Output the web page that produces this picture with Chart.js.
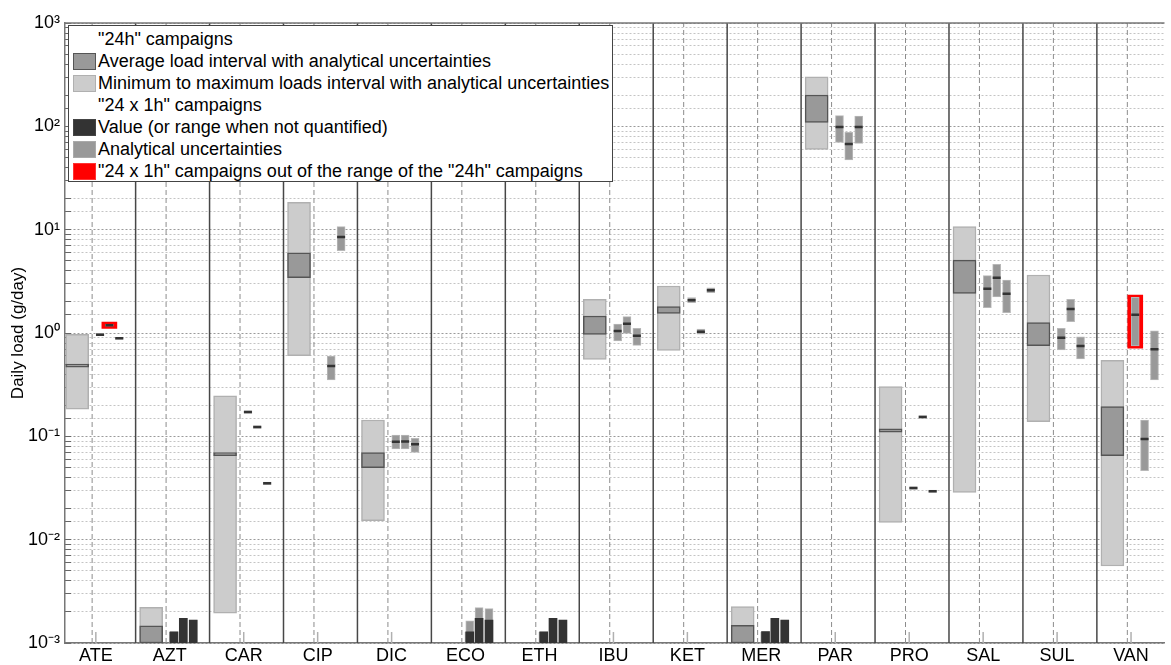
<!DOCTYPE html>
<html>
<head>
<meta charset="utf-8">
<script src="https://cdn.jsdelivr.net/npm/chart.js@4.4.1/dist/chart.umd.min.js"></script>
<style>
body { margin:0; background:#fff; overflow:hidden; }
#wrap { position:relative; width:1171px; height:665px; }
#legend { position:absolute; left:68px; top:25px; width:545px; height:157px; box-sizing:border-box;
  border:1px solid #444; background:#fff; padding-top:3px;
  font:18px "Liberation Sans", Arial, sans-serif; color:#000; }
#legend .row { height:21.9px; display:flex; align-items:center; white-space:nowrap; }
#legend .sw { width:23px; height:17px; box-sizing:border-box; margin:0 2px 0 4px; border:1.5px solid; flex:none; }
#legend .none { border:none; }
</style>
</head>
<body>
<div id="wrap">
  <canvas id="loads"></canvas>
  <div id="legend">
    <div class="row"><span class="sw none"></span>"24h" campaigns</div>
    <div class="row"><span class="sw" style="background:#999;border-color:#555"></span>Average load interval with analytical uncertainties</div>
    <div class="row"><span class="sw" style="background:#ccc;border-color:#b0b0b0"></span>Minimum to maximum loads interval with analytical uncertainties</div>
    <div class="row"><span class="sw none"></span>"24 x 1h" campaigns</div>
    <div class="row"><span class="sw" style="background:#333;border-color:#444"></span>Value (or range when not quantified)</div>
    <div class="row"><span class="sw" style="background:#999;border-color:#aaa"></span>Analytical uncertainties</div>
    <div class="row"><span class="sw" style="background:#f00;border-color:#f33"></span>"24 x 1h" campaigns out of the range of the "24h" campaigns</div>
  </div>
</div>
<script>
const categories = ['ATE','AZT','CAR','CIP','DIC','ECO','ETH','IBU','KET','MER','PAR','PRO','SAL','SUL','VAN'];

// "24h" campaigns, minimum to maximum loads (g/day)
const dailyMin = [0.183, 0.001, 0.00194, 0.604, 0.0153, null, null, 0.556, 0.68, 0.001, 59.9, 0.0147, 0.0287, 0.139, 0.00556];
const dailyMax = [0.97, 0.00222, 0.247, 18.4, 0.144, null, null, 2.12, 2.85, 0.00225, 302, 0.303, 10.7, 3.64, 0.545];
// "24h" campaigns, average load interval
const avgLow  = [0.467, 0.001, 0.065, 3.43, 0.0497, null, null, 0.97, 1.55, 0.001, 109, 0.110, 2.42, 0.753, 0.065];
const avgHigh = [0.50, 0.00147, 0.0697, 5.98, 0.0695, null, null, 1.46, 1.80, 0.00148, 201, 0.118, 5.08, 1.26, 0.194];

// "24 x 1h" campaigns, three per compound
const hourlyValue = [
  [0.964, 1.19, 0.888], [0.00128, 0.00173, 0.00167], [0.172, 0.123, 0.0351],
  [null, 0.48, 8.49], [0.0887, 0.089, 0.0838], [0.00128, 0.00173, 0.00167],
  [0.00128, 0.00173, 0.00167], [1.045, 1.23, 0.94], [2.08, 1.03, 2.59],
  [0.00129, 0.00173, 0.00167], [98.6, 67.5, 98.6], [0.0316, 0.154, 0.0294],
  [2.68, 3.43, 2.40], [0.90, 1.71, 0.748], [1.50, 0.0942, 0.695]
];
const hourlyLow = [
  [0.94, 1.165, 0.867], [0.001, 0.001, 0.001], [0.167, 0.1195, 0.0341],
  [null, 0.351, 6.26], [0.0754, 0.0754, 0.070], [0.001, 0.001, 0.001],
  [0.001, 0.001, 0.001], [0.837, 0.99, 0.76], [1.97, 0.975, 2.45],
  [0.001, 0.001, 0.001], [70, 47.2, 68.5], [0.0307, 0.1495, 0.0286],
  [1.76, 2.24, 1.57], [0.684, 1.29, 0.56], [0.75, 0.0465, 0.351]
];
const hourlyHigh = [
  [0.99, 1.215, 0.91], [0.00128, 0.00173, 0.00167], [0.177, 0.1265, 0.0361],
  [null, 0.599, 10.7], [0.103, 0.103, 0.0957], [0.00164, 0.0022, 0.00215],
  [0.00128, 0.00173, 0.00167], [1.22, 1.44, 1.11], [2.2, 1.09, 2.74],
  [0.00129, 0.00173, 0.00167], [127, 87.5, 126], [0.0325, 0.1585, 0.0302],
  [3.59, 4.62, 3.26], [1.11, 2.12, 0.92], [2.22, 0.144, 1.05]
];
const notQuantified = ['AZT','ECO','ETH','MER'];
const outOfRange = [['ATE', 1], ['VAN', 0]];

const yMin = 1e-3, yMax = 1e3;

// horizontal layout inside one compound slot (x units)
const BOX = -0.252, DASH = -0.05, SEP = 0.538;
const SLOT = [0.057, 0.183, 0.317];

function sup(n) {
  const m = {'-':'\u207B','0':'\u2070','1':'\u00B9','2':'\u00B2','3':'\u00B3','4':'\u2074','5':'\u2075','6':'\u2076','7':'\u2077','8':'\u2078','9':'\u2079'};
  return String(n).split('').map(c => m[c]).join('');
}

function vlines(off, yTop) {
  const pts = [];
  categories.forEach((c, i) => {
    pts.push({x: i + 1 + off, y: yMin}, {x: i + 1 + off, y: yTop}, {x: i + 1 + off, y: null});
  });
  return pts;
}

const boxData = [], avgData = [], uncData = [], darkData = [], valData = [], redData = [];
categories.forEach((c, i) => {
  const x = i + 1;
  if (dailyMin[i] != null) boxData.push({x: x + BOX, y: [dailyMin[i], dailyMax[i]]});
  if (avgLow[i] != null) avgData.push({x: x + BOX, y: [avgLow[i], avgHigh[i]]});
  hourlyValue[i].forEach((v, k) => {
    if (v == null) return;
    const xs = x + SLOT[k];
    uncData.push({x: xs, y: [hourlyLow[i][k], hourlyHigh[i][k]]});
    if (notQuantified.includes(c)) darkData.push({x: xs, y: [yMin, v]});
    else valData.push({x: xs, y: v});
  });
});
outOfRange.forEach(([c, k]) => {
  const i = categories.indexOf(c);
  redData.push({x: i + 1 + SLOT[k], y: [hourlyLow[i][k] / 1.05, hourlyHigh[i][k] * 1.05]});
});

const isDecade = v => Math.abs(Math.log10(v) - Math.round(Math.log10(v))) < 1e-6;

const frame = {
  id: 'frame',
  afterDatasetsDraw(chart) {
    const {ctx, chartArea: a} = chart;
    ctx.save();
    ctx.strokeStyle = '#777';
    ctx.lineWidth = 1.5;
    ctx.beginPath();
    ctx.moveTo(a.left, a.top);
    ctx.lineTo(a.right, a.top);
    ctx.stroke();
    ctx.restore();
  }
};

Chart.defaults.font.family = '"Liberation Sans", Arial, sans-serif';
Chart.defaults.color = '#000';

new Chart(document.getElementById('loads'), {
  type: 'bar',
  data: {
    datasets: [
      {type: 'line', data: vlines(SEP, yMax), borderColor: '#474747', borderWidth: 1.5, pointRadius: 0, spanGaps: false, order: 20},
      {type: 'line', data: vlines(DASH, yMax), borderColor: '#8c8c8c', borderWidth: 1, borderDash: [5, 3], pointRadius: 0, spanGaps: false, order: 19},
      {type: 'line', data: vlines(0, 1.28e-3), borderColor: '#b0b0b0', borderWidth: 1.5, pointRadius: 0, spanGaps: false, order: 18},
      {label: 'min-max', data: boxData, grouped: false, barThickness: 23, backgroundColor: '#cccccc', borderColor: '#b0b0b0', borderWidth: 1.5, borderSkipped: false, order: 10},
      {label: 'average', data: avgData, grouped: false, barThickness: 23, backgroundColor: '#999999', borderColor: '#555555', borderWidth: 1.5, borderSkipped: false, order: 9},
      {label: 'out of range', data: redData, grouped: false, barThickness: 15, backgroundColor: '#ff0000', borderWidth: 0, order: 8},
      {label: 'uncertainty', data: uncData, grouped: false, barThickness: 8, backgroundColor: '#999999', borderColor: '#b8b8b8', borderWidth: 1, borderSkipped: false, order: 7},
      {label: 'not quantified', data: darkData, grouped: false, barThickness: 8, backgroundColor: '#333333', borderWidth: 0, order: 6},
      {type: 'line', label: 'value', data: valData, showLine: false, pointStyle: 'line', pointRadius: 4, pointBorderWidth: 2.5, pointBorderColor: '#333', order: 5}
    ]
  },
  options: {
    responsive: true,
    maintainAspectRatio: false,
    animation: false,
    layout: {padding: {top: 23, right: 0, left: 0, bottom: 0}},
    scales: {
      x: {
        type: 'linear',
        min: 1 + BOX - 0.165,
        max: 1 + BOX - 0.165 + 1106 / 74.38,
        offset: false,
        grid: {display: false, drawTicks: false, offset: false},
        border: {display: true, color: '#777', width: 1.5},
        ticks: {
          stepSize: 1, maxTicksLimit: 20, autoSkip: false, includeBounds: false, maxRotation: 0,
          padding: 2, font: {size: 18},
          callback: v => categories[v - 1] || ''
        },
        afterFit: s => { s.height = 22; }
      },
      y: {
        type: 'logarithmic',
        min: yMin,
        max: yMax,
        grid: {
          drawTicks: true,
          tickLength: -6,
          tickColor: '#666',
          tickWidth: 1,
          color: c => (c.tick && isDecade(c.tick.value)) ? '#9a9a9a' : '#c4c4c4',
          lineWidth: 1
        },
        border: {display: true, color: '#777', width: 1.5, dash: [2, 2]},
        ticks: {
          autoSkip: false, padding: 11, font: {size: 18},
          callback: v => isDecade(v) ? '10' + sup(Math.round(Math.log10(v))) : ''
        },
        title: {display: true, text: 'Daily load (g/day)', font: {size: 17}, padding: {top: 8, bottom: 0}},
        afterFit: s => { s.width = 65; }
      }
    },
    plugins: {
      legend: {display: false},
      tooltip: {enabled: false}
    }
  },
  plugins: [frame]
});
</script>
</body>
</html>
